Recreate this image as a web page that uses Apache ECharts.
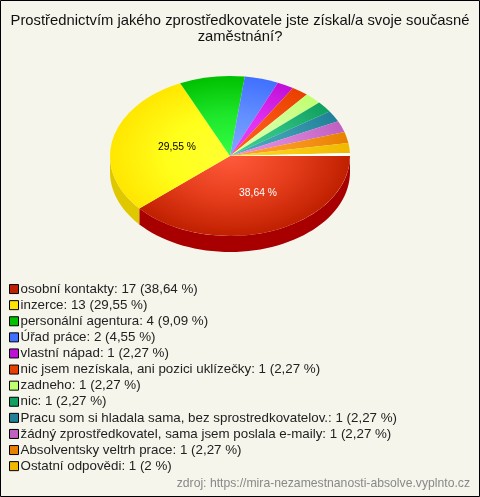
<!DOCTYPE html>
<html><head><meta charset="utf-8">
<style>html,body{margin:0;padding:0;background:#f5f5ec}#c{width:480px;height:497px}</style>
<script src="https://cdn.jsdelivr.net/npm/echarts@6/dist/echarts.min.js"></script>
</head><body><div id="c"></div>
<script>
const titleText = 'Prostřednictvím jakého zprostředkovatele jste získal/a svoje současné\nzaměstnání?';
const sourceText = 'zdroj: https://mira-nezamestnanosti-absolve.vyplnto.cz';
const categories = ['osobní kontakty','inzerce','personální agentura','Úřad práce','vlastní nápad','nic jsem nezískala, ani pozici uklízečky','zadneho','nic','Pracu som si hladala sama, bez sprostredkovatelov.','žádný zprostředkovatel, sama jsem poslala e-maily','Absolventsky veltrh prace','Ostatní odpovědi'];
const counts = [17,13,4,2,1,1,1,1,1,1,1,1];
const percents = [38.64,29.55,9.09,4.55,2.27,2.27,2.27,2.27,2.27,2.27,2.27,2];
const percentLabels = ['38,64','29,55','9,09','4,55','2,27','2,27','2,27','2,27','2,27','2,27','2,27','2'];
const colors = ['#c02000','#ffe600','#00c000','#4070ff','#c010d8','#e84000','#c0ff70','#10a060','#208098','#c060c0','#e88000','#f0b800'];
const inner = ['#ff5a3c','#ffff33','#33ff44','#80a8ff','#f040ff','#ff6020','#e0ffa0','#40d090','#50b0c0','#e890e8','#ffa030','#ffdc20'];
const middle = ['#e8401e','#ffff1c','#1fe82c','#6490ff','#e030f0','#f85412','#d4ffa0','#2cc080','#3c9cb0','#d880d8','#f89820','#f8cc10'];
const sides = ['#a80000','#e0c800'];

const CX=230, CY=156, RX=120, RY=80, DEPTH=16;
const FAN_SHIFT=-1.1/360*Math.PI*2;
const labels = {0:{dx:28,dy:37,fill:'#fff'},1:{dx:-53,dy:-8.7,fill:'#000'}};
const rad = p => p/100*Math.PI*2;
const starts = percents.map((_,i)=>percents.slice(0,i).reduce((a,b)=>a+b,0));

function sideWall(a0,a1,fill){
  const top=[],bot=[];
  const end=Math.min(a1,Math.PI);
  if(a0>=end) return null;
  for(let k=0;k<=48;k++){
    const t=a0+(end-a0)*k/48;
    const x=CX+RX*Math.cos(t), y=CY+RY*Math.sin(t);
    top.push([x,y]); bot.unshift([x,y+DEPTH]);
  }
  return {type:'polygon',shape:{points:top.concat(bot)},style:{fill}};
}
function face(a0,a1,fill){
  return {type:'group',x:CX,y:CY,scaleY:RY/RX,children:[{
    type:'sector',
    shape:{cx:0,cy:0,r0:0,r:RX,startAngle:a0,endAngle:a1,clockwise:true},
    style:{fill}
  }]};
}
const series = categories.map((name,i)=>({
  name, type:'custom', coordinateSystem:'none', silent:true,
  itemStyle:{color:colors[i]},
  data:[[starts[i],percents[i]]],
  renderItem(params,api){
    const off=i>=3?FAN_SHIFT:0;
    const a0=rad(api.value(0))+off, a1=rad(api.value(0)+api.value(1))+(i>=2?FAN_SHIFT:0);
    const kids=[];
    const w=sideWall(a0,a1,sides[i]);
    if(w) kids.push(w);
    const stops=[{offset:0,color:inner[i]},{offset:0.5,color:middle[i]},{offset:1,color:colors[i]}];
    kids.push(face(a0,a1,new echarts.graphic.RadialGradient(0,0,RX,stops,true)));
    if(labels[i]) kids.push({type:'text',x:CX+labels[i].dx,y:CY+labels[i].dy,
      style:{text:percentLabels[i]+' %',fill:labels[i].fill,font:'10.3px "Liberation Sans"',align:'center',verticalAlign:'middle'}});
    return {type:'group',children:kids};
  }
}));
// pale sliver between the last slice and the first one
series.push({name:'gap',type:'custom',coordinateSystem:'none',silent:true,data:[[starts[11]+percents[11],100]],
  renderItem(params,api){return face(rad(api.value(0))+FAN_SHIFT,rad(api.value(1)),'#ffffff');}});

const chart = echarts.init(document.getElementById('c'),null,{renderer:'canvas'});
chart.setOption({
  animation:false, backgroundColor:'#f5f5ec',
  title:[
    {text:titleText,left:235,top:8,textAlign:'center',textStyle:{fontFamily:'Liberation Sans',fontWeight:'normal',fontSize:14.8,color:'#111',lineHeight:16}},
    {text:sourceText,right:5,top:473,textStyle:{fontFamily:'Liberation Sans',fontWeight:'normal',fontSize:12.2,color:'#888'}}
  ],
  legend:{orient:'vertical',left:4,top:277,itemWidth:9,itemHeight:9,itemGap:2,selectedMode:false,icon:'rect',
    itemStyle:{borderColor:'#000',borderWidth:1},
    textStyle:{fontFamily:'Liberation Sans',fontSize:13.35,color:'#222',padding:[0,0,0,-3],lineHeight:14.1},
    formatter:n=>{const i=categories.indexOf(n);return n+': '+counts[i]+' ('+percentLabels[i]+' %)';},
    data:categories},
  graphic:[{type:'rect',silent:true,z:-1,shape:{x:0.5,y:0.5,width:479,height:496},style:{fill:'none',stroke:'#000'}}],
  series
});
</script></body></html>
